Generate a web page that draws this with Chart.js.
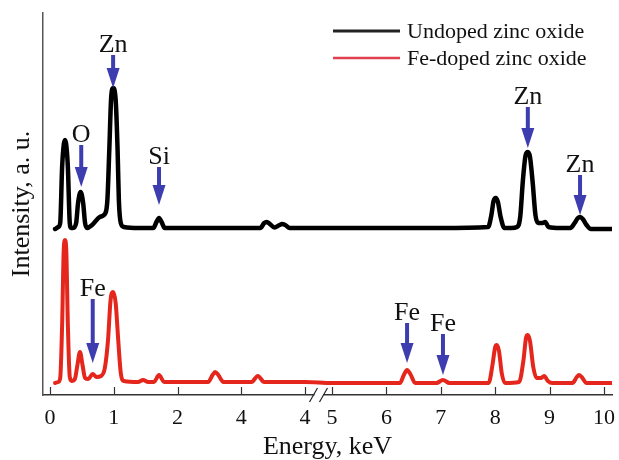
<!DOCTYPE html>
<html>
<head>
<meta charset="utf-8">
<script src="https://cdn.jsdelivr.net/npm/chart.js@4"></script>
<style>
  html, body { margin: 0; padding: 0; background: #fff; }
  #wrap { width: 619px; height: 460px; }
</style>
</head>
<body>
<div id="wrap"><canvas id="eds"></canvas></div>
<script>
// Axis ticks (positions on the broken axis) and their printed labels
const tickPos = [0, 1, 2, 3, 4, 5, 6, 7, 8, 9, 10];
const tickLabels = ["0", "1", "2", "4", "4", "5", "6", "7", "8", "9", "10"];

// Undoped ZnO spectrum (black)
const undopedEnergy = [0.08, 0.13, 0.16, 0.19, 0.215, 0.235, 0.255, 0.28, 0.31, 0.33, 0.36, 0.41, 0.44, 0.48, 0.52, 0.55, 0.58, 0.66, 0.78, 0.87, 0.90, 0.93, 0.96, 0.99, 1.03, 1.06, 1.08, 1.11, 1.16,
  1.40, 1.62, 1.67, 1.71, 1.75, 1.80, 2.50, 3.30, 3.36, 3.40, 3.45, 3.52, 3.60, 3.64, 3.69, 3.76, 4.0,
  5.0, 6.0, 7.0, 7.87, 7.93, 7.97, 8.01, 8.05, 8.10, 8.17, 8.30, 8.40, 8.46, 8.51, 8.56, 8.60, 8.64, 8.69, 8.74, 8.79, 8.87, 8.92, 8.98,
  9.20, 9.38, 9.46, 9.52, 9.56, 9.61, 9.68, 9.76, 10.15];
const undopedCounts = [166, 168, 172, 228, 250, 255, 250, 228, 172, 167, 167, 172, 192, 203, 192, 172, 167, 170, 178, 182, 195, 245, 298, 307, 295, 245, 195, 172, 168,
  167, 167, 173, 177, 173, 167, 167, 167, 172, 173, 171, 167.5, 170, 171, 170, 167, 167,
  167, 167, 167, 168, 180, 194, 197, 193, 178, 167, 167, 168, 178, 215, 240, 243, 238, 212, 180, 172, 172, 173, 168,
  167, 167, 172, 177, 178, 176, 170, 166, 166];

// Fe-doped ZnO spectrum (red)
const dopedEnergy = [0.08, 0.13, 0.16, 0.19, 0.215, 0.235, 0.255, 0.28, 0.31, 0.34, 0.39, 0.43, 0.47, 0.51, 0.55, 0.60, 0.67, 0.73, 0.80, 0.86, 0.91, 0.95, 0.99, 1.03, 1.07, 1.11, 1.16,
  1.38, 1.46, 1.54, 1.63, 1.71, 1.79, 2.48, 2.55, 2.59, 2.64, 2.72, 3.16, 3.26, 3.36, 4.0,
  5.0, 6.25, 6.32, 6.38, 6.44, 6.53, 6.92, 7.04, 7.16, 7.88, 7.95, 8.00, 8.03, 8.07, 8.12, 8.18, 8.44, 8.52, 8.57, 8.60, 8.64, 8.70, 8.76, 8.84, 8.90, 8.97, 9.05,
  9.42, 9.50, 9.54, 9.59, 9.68, 10.15];
const dopedCounts = [12, 13, 17, 70, 145, 155, 145, 70, 18, 14, 16, 30, 43, 30, 17, 16, 21, 18, 19, 27, 55, 95, 103, 92, 55, 22, 14,
  13, 15, 13, 13, 20, 13, 13, 20, 23, 20, 13, 13, 19, 13, 13,
  12, 12, 20, 25, 21, 12, 12, 15, 12, 12, 30, 48, 50, 44, 22, 12, 13, 35, 58, 60, 54, 28, 17, 17, 19, 14, 12,
  12, 18, 20, 18, 12, 12];

// Element markers (arrows)
const peakElement = ["O", "Zn", "Si", "Zn", "Zn", "Fe", "Fe", "Fe"];
const peakEnergy = [0.49, 0.99, 1.71, 8.60, 9.56, 0.67, 6.38, 7.04];
const arrowTip = [208, 307, 190, 247, 180, 32, 32, 20];
const arrowTail = [250, 340, 228, 288, 220, 96, 72, 61];

const FONT = "'Liberation Serif', 'Times New Roman', serif";
const BLUE = "#3d3db0";

// broken axis: 0..4 on the left part, 5..10 compressed on the right
const GAP = 27 / 63.75;
const RIGHT = 54.4 / 63.75;
function axisPos(e) {
  return e <= 4.5 ? e : 4 + GAP + (e - 5) * RIGHT;
}

function toPoints(xs, ys) {
  return xs.map((x, i) => ({ x: axisPos(x), y: ys[i] }));
}

const decorations = {
  id: "decorations",
  afterDraw(chart) {
    const ctx = chart.ctx;
    const xs = chart.scales.x;
    const ys = chart.scales.y;
    const axisY = chart.chartArea.bottom;
    ctx.save();

    // inward tick marks
    ctx.strokeStyle = "#333";
    ctx.lineWidth = 1.2;
    tickPos.forEach((t) => {
      const px = Math.round(xs.getPixelForValue(axisPos(t))) + 0.5;
      ctx.beginPath();
      ctx.moveTo(px, axisY);
      ctx.lineTo(px, axisY - 8);
      ctx.stroke();
    });

    // axis break
    const mid = (xs.getPixelForValue(axisPos(4)) + xs.getPixelForValue(axisPos(5))) / 2;
    ctx.fillStyle = "#fff";
    ctx.fillRect(mid - 4, axisY - 2, 9, 4);
    ctx.strokeStyle = "#222";
    ctx.lineWidth = 1.2;
    [mid - 5, mid + 5].forEach((cx) => {
      ctx.beginPath();
      ctx.moveTo(cx - 4, axisY + 7);
      ctx.lineTo(cx + 4, axisY - 7);
      ctx.stroke();
    });

    // arrows with element labels
    peakEnergy.forEach((e, i) => {
      const px = xs.getPixelForValue(axisPos(e));
      const tip = ys.getPixelForValue(arrowTip[i]);
      const tail = ys.getPixelForValue(arrowTail[i]);
      const head = 20;
      ctx.fillStyle = BLUE;
      ctx.fillRect(px - 2, tail, 4, tip - head - tail + 1);
      ctx.beginPath();
      ctx.moveTo(px - 6.5, tip - head);
      ctx.lineTo(px + 6.5, tip - head);
      ctx.lineTo(px, tip);
      ctx.closePath();
      ctx.fill();
      ctx.fillStyle = "#111";
      ctx.font = "26px " + FONT;
      ctx.textAlign = "center";
      ctx.textBaseline = "alphabetic";
      ctx.fillText(peakElement[i], px, tail - 3);
    });

    // legend
    const items = [
      { label: "Undoped zinc oxide", color: "#222", width: 3, y: 31 },
      { label: "Fe-doped zinc oxide", color: "#e04050", width: 2.5, y: 58 },
    ];
    items.forEach((it) => {
      ctx.strokeStyle = it.color;
      ctx.lineWidth = it.width;
      ctx.beginPath();
      ctx.moveTo(333, it.y);
      ctx.lineTo(400, it.y);
      ctx.stroke();
      ctx.fillStyle = "#111";
      ctx.font = "22px " + FONT;
      ctx.textAlign = "left";
      ctx.textBaseline = "middle";
      ctx.fillText(it.label, 407, it.y + 1);
    });
    ctx.restore();
  },
};

new Chart(document.getElementById("eds"), {
  type: "line",
  data: {
    datasets: [
      {
        label: "Undoped zinc oxide",
        data: toPoints(undopedEnergy, undopedCounts),
        borderColor: "#000",
        borderWidth: 4.5,
        cubicInterpolationMode: "monotone",
        pointRadius: 0,
        borderJoinStyle: "round",
        borderCapStyle: "round",
      },
      {
        label: "Fe-doped zinc oxide",
        data: toPoints(dopedEnergy, dopedCounts),
        borderColor: "#e4261c",
        borderWidth: 4,
        cubicInterpolationMode: "monotone",
        pointRadius: 0,
        borderJoinStyle: "round",
        borderCapStyle: "round",
      },
    ],
  },
  options: {
    responsive: true,
    maintainAspectRatio: false,
    animation: false,
    layout: { padding: { top: 13, right: 7, left: 0, bottom: 0 } },
    plugins: { legend: { display: false }, tooltip: { enabled: false } },
    scales: {
      x: {
        type: "linear",
        min: -0.11,
        max: 8.816,
        afterFit: (s) => { s.height = 65; s.paddingLeft = 0; s.paddingRight = 0; },
        afterBuildTicks: (s) => { s.ticks = tickPos.map((t) => ({ value: axisPos(t) })); },
        grid: { display: false },
        border: { display: true, color: "#333", width: 1.5 },
        ticks: {
          autoSkip: false,
          maxRotation: 0,
          padding: 2,
          color: "#111",
          font: { family: FONT, size: 22 },
          callback: (v, i) => tickLabels[i],
        },
        title: {
          display: true,
          text: "Energy, keV",
          color: "#111",
          font: { family: FONT, size: 26, lineHeight: 0.95 },
          padding: { top: 0, bottom: 0 },
        },
      },
      y: {
        min: 0,
        max: 382,
        afterFit: (s) => { s.width = 43; },
        grid: { display: false },
        border: { display: true, color: "#555", width: 1.5 },
        ticks: { display: false },
        title: {
          display: true,
          text: "Intensity, a. u.",
          color: "#111",
          font: { family: FONT, size: 26 },
          padding: { top: 7, bottom: 0 },
        },
      },
    },
  },
  plugins: [decorations],
});
</script>
</body>
</html>
